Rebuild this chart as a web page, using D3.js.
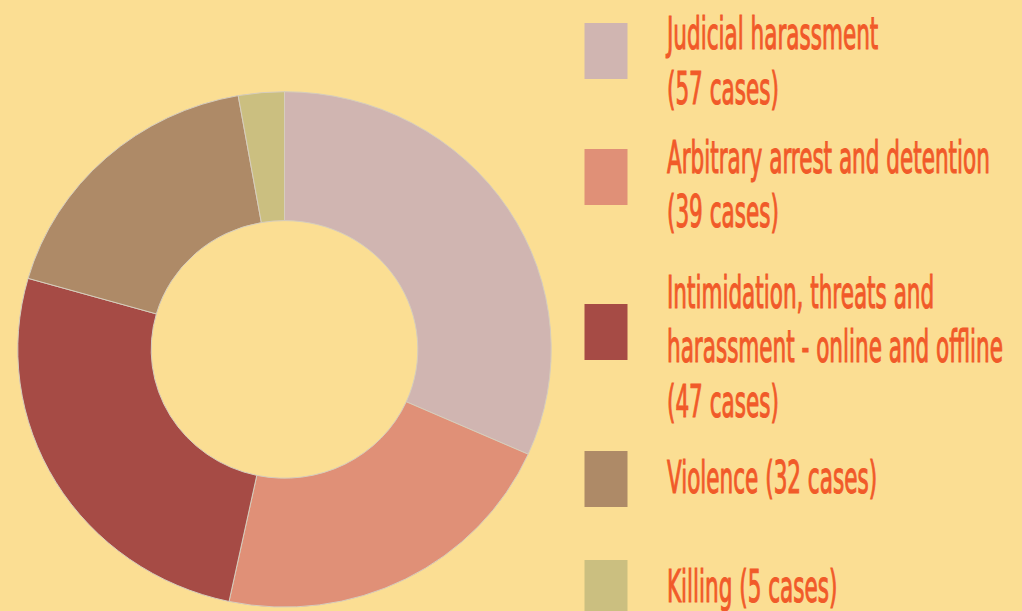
<!DOCTYPE html>
<html>
<head>
<meta charset="utf-8">
<script src="https://cdn.jsdelivr.net/npm/d3@7"></script>
<style>
  html, body { margin: 0; padding: 0; background: #fbde93; }
  svg { display: block; }
</style>
</head>
<body>
<svg id="chart" width="1022" height="611"></svg>
<script>
const categories = [
  "Judicial harassment",
  "Arbitrary arrest and detention",
  "Intimidation, threats and harassment - online and offline",
  "Violence",
  "Killing"
];
const values = [57, 39, 47, 32, 5];
const colors = ["#d0b5b1", "#e09077", "#a64b45", "#ae8a67", "#cbbf80"];
const legendLines = [
  ["Judicial harassment", "(57 cases)"],
  ["Arbitrary arrest and detention", "(39 cases)"],
  ["Intimidation, threats and", "harassment - online and offline", "(47 cases)"],
  ["Violence (32 cases)"],
  ["Killing (5 cases)"]
];

const svg = d3.select("#chart");
svg.append("rect").attr("width", 1022).attr("height", 611).attr("fill", "#fbde93");

const data = categories.map((c, i) => ({ name: c, value: values[i], color: colors[i] }));

const outerR = 257.7, innerR = 128.8;
const pie = d3.pie().value(d => d.value).sort(null);
const arc = d3.arc().innerRadius(innerR).outerRadius(outerR);

const g = svg.append("g").attr("transform", "translate(284.5,349.4) scale(1.035,1)");
g.selectAll("path")
  .data(pie(data))
  .join("path")
  .attr("d", arc)
  .attr("fill", d => d.data.color)
  .attr("stroke", "#d6cdbd")
  .attr("stroke-width", 1)
  .attr("vector-effect", "non-scaling-stroke");

// Legend
const swatchY = [23, 149, 304, 451, 560];
const firstBaseline = [49.5, 173, 308, 493, 602];
const lineStep = 54.5;
const textColor = "#f15a29";

const leg = svg.append("g");
leg.selectAll("rect.sw")
  .data(data)
  .join("rect")
  .attr("class", "sw")
  .attr("x", 584.5)
  .attr("y", (d, i) => swatchY[i])
  .attr("width", 43)
  .attr("height", 56)
  .attr("fill", d => d.color);

const fontFamily = "'DejaVu Sans Condensed', 'Liberation Sans Narrow', sans-serif";
const fontSize = 45;

const textGroups = leg.selectAll("g.lbl")
  .data(legendLines)
  .join("g")
  .attr("class", "lbl");

const texts = textGroups.selectAll("text")
  .data((lines, i) => lines.map((l, j) => ({ text: l, y: firstBaseline[i] + j * lineStep })))
  .join("text")
  .attr("x", 0)
  .attr("y", d => d.y)
  .attr("fill", textColor)
  .attr("stroke", textColor)
  .attr("stroke-width", 1.1)
  .attr("font-family", fontFamily)
  .attr("font-size", fontSize)
  .text(d => d.text);

// compress horizontally to match the condensed lettering
let refNode = null;
texts.each(function(d) { if (d.text === "Arbitrary arrest and detention") refNode = this; });
const refW = refNode.getComputedTextLength();
const sx = 323 / refW;
textGroups.attr("transform", `translate(667,0) scale(${sx},1)`);
</script>
</body>
</html>
